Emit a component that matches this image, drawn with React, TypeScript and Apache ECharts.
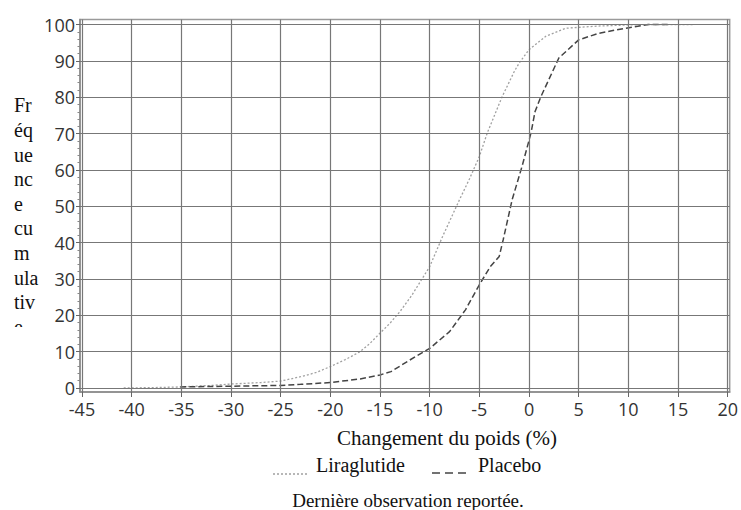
import React, { useEffect, useRef } from "react";
import * as echarts from "echarts";

const xTicks = [-45, -40, -35, -30, -25, -20, -15, -10, -5, 0, 5, 10, 15, 20];
const yTicks = [0, 10, 20, 30, 40, 50, 60, 70, 80, 90, 100];
const yMinorTicks = [2, 4, 6, 8, 12, 14, 16, 18, 22, 24, 26, 28, 32, 34, 36, 38, 42, 44, 46, 48, 52, 54, 56, 58, 62, 64, 66, 68, 72, 74, 76, 78, 82, 84, 86, 88, 92, 94, 96, 98];

const liraglutide: [number, number][] = [
  [-40.8, 0], [-38, 0.1], [-35, 0.3], [-32, 0.7], [-30, 1.1], [-27, 1.5], [-25, 1.9],
  [-23, 3.1], [-21.5, 4.2], [-20, 5.9], [-18.5, 7.8], [-17, 10], [-16, 12.3], [-15, 15.1],
  [-14, 17.8], [-13, 21], [-11.8, 25.5], [-10, 33.4], [-8.7, 41.7], [-7, 51.8], [-6, 57.5],
  [-5, 63.7], [-4.2, 70.2], [-2.7, 80.2], [-1.5, 87], [-1, 89.4], [0, 93.1], [1.7, 96.8],
  [3.7, 99], [7, 99.6], [10, 99.9], [12, 100], [16.5, 100],
];

const placebo: [number, number][] = [
  [-35.1, 0.3], [-30, 0.5], [-25, 0.7], [-23, 1.0], [-20, 1.5], [-17, 2.5], [-15, 3.6],
  [-13.9, 4.5], [-12, 7.7], [-10, 10.9], [-8, 15.5], [-6.4, 21.5], [-5, 28.4], [-3.9, 33.4],
  [-3, 36.2], [-2.6, 40.8], [-1.7, 51.8], [-0.7, 61], [0.2, 70.2], [0.6, 76], [1.2, 80.2],
  [3, 90.8], [5, 95.8], [7, 97.6], [9.7, 99], [12, 100], [14, 100],
];

const seriesNames = ["Liraglutide", "Placebo"];
const yTitleLines = ["Fr", "éq", "ue", "nc", "e", "cu", "m", "ula", "tiv", "e"];
const xTitle = "Changement du poids (%)";
const footnote = "Dernière observation reportée.";

const SERIF = "Liberation Serif";
const SANS = "Open Sans";

const LIRA_COLOR = "#a0a0a0";
const PLACEBO_COLOR = "#444";
const LIRA_DASH = [2, 2];
const PLACEBO_DASH = [6, 3];

export default function App() {
  const ref = useRef<HTMLDivElement>(null);
  useEffect(() => {
    if (!ref.current) return;
    const chart = echarts.init(ref.current, null, { renderer: "svg" });
    const option: any = {
      animation: false,
      backgroundColor: "#fff",
      grid: {
        left: 80,
        right: 10,
        top: 19.5,
        bottom: 118,
        show: true,
        borderColor: "#9a9a9a",
        borderWidth: 1.5,
        backgroundColor: "transparent",
      },
      xAxis: {
        type: "value",
        min: -45.2,
        max: 20.2,
        axisLine: { show: true, onZero: false, lineStyle: { color: "#8a8a8a", width: 1.5 } },
        axisTick: { show: true, customValues: xTicks, length: 5, lineStyle: { color: "#666" } },
        axisLabel: { customValues: xTicks, fontFamily: SANS, fontSize: 18, color: "#333", margin: 8 },
        splitLine: { show: false },
      },
      yAxis: [
        {
          type: "value",
          min: -1.1,
          max: 101.4,
          axisLine: { show: true, onZero: false, lineStyle: { color: "#8a8a8a", width: 1.5 } },
          axisTick: { show: true, customValues: yTicks, length: 4, lineStyle: { color: "#666" } },
          axisLabel: { customValues: yTicks, fontFamily: SANS, fontSize: 18, color: "#333", margin: 5 },
          splitLine: { show: false },
        },
        {
          type: "value",
          min: -1.1,
          max: 101.4,
          position: "left",
          axisLine: { show: false, onZero: false },
          axisTick: { show: true, customValues: yMinorTicks, length: 2.5, lineStyle: { color: "#888" } },
          axisLabel: { show: false },
          splitLine: { show: false },
        },
      ],
      graphic: [
        {
          type: "text",
          x: 14,
          y: 93,
          style: {
            text: yTitleLines.join("\n"),
            font: `20px ${SERIF}`,
            fill: "#111",
            lineHeight: 24.6,
            textVerticalAlign: "top",
          },
          z: 10,
        },
        { type: "rect", shape: { x: 0, y: 327, width: 48, height: 20 }, style: { fill: "#fff" }, z: 11 },
        {
          type: "text",
          x: 447,
          y: 438,
          style: { text: xTitle, font: `21px ${SERIF}`, fill: "#111", textAlign: "center", textVerticalAlign: "middle" },
        },
        // legend
        {
          type: "line",
          shape: { x1: 273, y1: 474, x2: 307, y2: 474 },
          style: { stroke: LIRA_COLOR, lineWidth: 1.3, lineDash: LIRA_DASH },
        },
        {
          type: "text",
          x: 316,
          y: 465,
          style: { text: seriesNames[0], font: `20px ${SERIF}`, fill: "#111", textAlign: "left", textVerticalAlign: "middle" },
        },
        {
          type: "line",
          shape: { x1: 432, y1: 473, x2: 467, y2: 473 },
          style: { stroke: PLACEBO_COLOR, lineWidth: 1.5, lineDash: [8, 5] },
        },
        {
          type: "text",
          x: 478,
          y: 465,
          style: { text: seriesNames[1], font: `20px ${SERIF}`, fill: "#111", textAlign: "left", textVerticalAlign: "middle" },
        },
        {
          type: "text",
          x: 408,
          y: 500,
          style: { text: footnote, font: `19px ${SERIF}`, fill: "#111", textAlign: "center", textVerticalAlign: "middle" },
        },
      ],
      series: [
        {
          type: "line",
          name: "grid",
          data: [],
          z: 1,
          silent: true,
          markLine: {
            silent: true,
            symbol: ["none", "none"],
            label: { show: false },
            lineStyle: { color: "#777", width: 1.2, type: "solid" },
            emphasis: { disabled: true },
            data: [...xTicks.map((v) => ({ xAxis: v })), ...yTicks.map((v) => ({ yAxis: v }))],
          },
        },
        {
          type: "line",
          name: seriesNames[0],
          data: liraglutide,
          showSymbol: false,
          symbol: "none",
          z: 3,
          lineStyle: { color: LIRA_COLOR, width: 1.3, type: LIRA_DASH },
          itemStyle: { color: LIRA_COLOR },
        },
        {
          type: "line",
          name: seriesNames[1],
          data: placebo,
          showSymbol: false,
          symbol: "none",
          z: 3,
          lineStyle: { color: PLACEBO_COLOR, width: 1.5, type: PLACEBO_DASH },
          itemStyle: { color: PLACEBO_COLOR },
        },
      ],
    };
    chart.setOption(option);
    return () => chart.dispose();
  }, []);
  return (
    <div
      ref={ref}
      style={{ position: "fixed", left: 0, top: 0, width: 741, height: 510, background: "#fff" }}
    />
  );
}
